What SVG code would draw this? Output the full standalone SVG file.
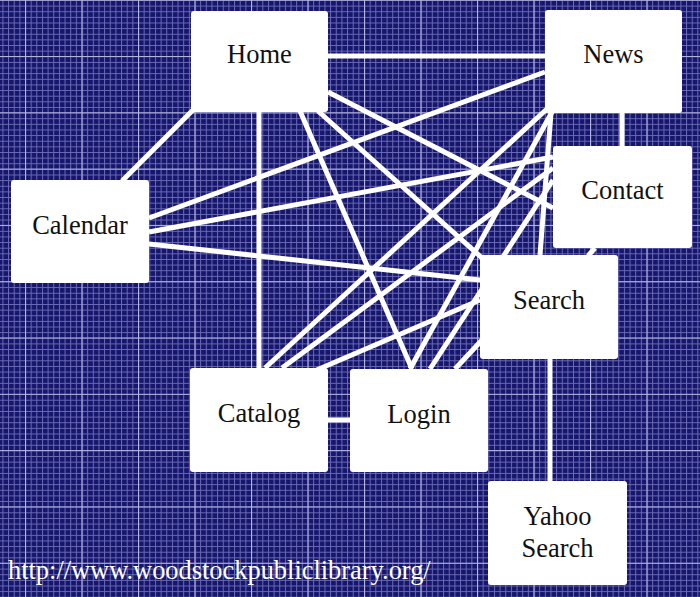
<svg xmlns="http://www.w3.org/2000/svg" width="700" height="597" viewBox="0 0 700 597">
<style>
.box{fill:#fff;}
.lbl{font-family:"Liberation Serif","Times New Roman",serif;font-size:26.5px;fill:#111;text-anchor:middle;}
.url{font-family:"Liberation Serif","Times New Roman",serif;font-size:26.4px;fill:#fff;}
.edge{stroke:#fff;stroke-width:5;stroke-linecap:butt;fill:none;}
</style>
<defs>
<pattern id="minor" x="25" y="0" width="5.65" height="5.63" patternUnits="userSpaceOnUse">
<path d="M0.5 0V5.63M0 0.5H5.65" stroke="#6a6ab4" stroke-width="1" fill="none"/>
</pattern>
<pattern id="major" x="25" y="56" width="56.5" height="56.3" patternUnits="userSpaceOnUse">
<path d="M0.5 0V56.3M0 0.5H56.5" stroke="#b4b4e0" stroke-width="1.2" fill="none"/>
</pattern>
</defs>
<rect width="700" height="597" fill="#16166c"/>
<rect width="700" height="597" fill="url(#minor)"/>
<rect width="700" height="597" fill="url(#major)"/>
<g id="connectors" class="edge">
<line x1="328" y1="56" x2="545" y2="56"/>
<line x1="193" y1="110" x2="122" y2="181"/>
<line x1="259" y1="111" x2="259" y2="368"/>
<line x1="300" y1="111" x2="412" y2="369"/>
<line x1="328" y1="92" x2="553" y2="208"/>
<line x1="318" y1="111" x2="482" y2="258"/>
<line x1="149" y1="218" x2="545" y2="72"/>
<line x1="149" y1="232" x2="553" y2="157"/>
<line x1="149" y1="244" x2="480" y2="280"/>
<line x1="265" y1="368" x2="548" y2="108"/>
<line x1="282" y1="368" x2="553" y2="168"/>
<line x1="312" y1="372" x2="480" y2="300"/>
<line x1="328" y1="420" x2="350" y2="420"/>
<line x1="410" y1="369" x2="552" y2="112"/>
<line x1="430" y1="369" x2="553" y2="180"/>
<line x1="455" y1="369" x2="482" y2="340"/>
<line x1="551" y1="113" x2="540" y2="255"/>
<line x1="622" y1="113" x2="622" y2="146"/>
<line x1="595" y1="248" x2="588" y2="256"/>
<line x1="550" y1="359" x2="550" y2="481"/>
</g>
<g id="home"><rect class="box" x="191" y="11" width="137" height="101" rx="3"/><text class="lbl" x="259.5" y="63">Home</text></g>
<g id="news"><rect class="box" x="545" y="10" width="137" height="103" rx="3"/><text class="lbl" x="613.5" y="63">News</text></g>
<g id="contact"><rect class="box" x="553" y="146" width="139" height="102" rx="3"/><text class="lbl" x="622.5" y="199">Contact</text></g>
<g id="calendar"><rect class="box" x="11" y="180" width="138" height="103" rx="3"/><text class="lbl" x="80" y="234">Calendar</text></g>
<g id="search"><rect class="box" x="480" y="255" width="138" height="104" rx="3"/><text class="lbl" x="549" y="309">Search</text></g>
<g id="catalog"><rect class="box" x="190" y="368" width="138" height="104" rx="3"/><text class="lbl" x="259" y="422">Catalog</text></g>
<g id="login"><rect class="box" x="350" y="369" width="138" height="103" rx="3"/><text class="lbl" x="419" y="423">Login</text></g>
<g id="yahoo"><rect class="box" x="488" y="481" width="139" height="104" rx="3"/><text class="lbl" x="557.5" y="525">Yahoo</text><text class="lbl" x="557.5" y="557">Search</text></g>
<text class="url" x="8" y="579">http://www.woodstockpubliclibrary.org/</text>
</svg>
